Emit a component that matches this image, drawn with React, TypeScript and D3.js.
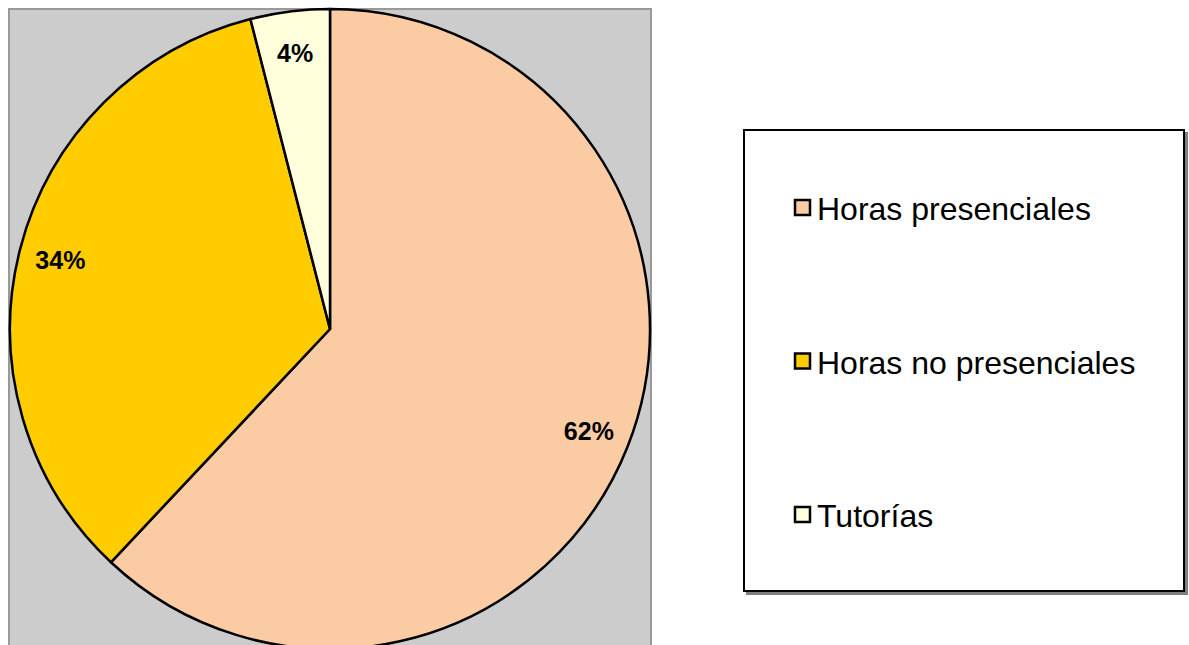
import React, { useRef, useEffect } from 'react';
import * as d3 from 'd3';

const categories = ['Horas presenciales', 'Horas no presenciales', 'Tutorías'];
const values = [62, 34, 4];
const colors = ['#FBCBA3', '#FFCC00', '#FFFFDB'];

const width = 1189;
const height = 645;

const PieChart = () => {
    const ref = useRef<SVGSVGElement>(null);

    useEffect(() => {
        const svg = d3.select(ref.current)
            .attr('width', width)
            .attr('height', height)
            .style('background-color', 'white')
            .style('display', 'block');

        svg.selectAll('*').remove();

        const data = categories.map((name, i) => ({ name, value: values[i] }));
        const color = d3.scaleOrdinal<string, string>().domain(categories).range(colors);

        // plot area
        svg.append('rect')
            .attr('x', 9)
            .attr('y', 9)
            .attr('width', 642)
            .attr('height', 660)
            .attr('fill', '#CCCCCC')
            .attr('stroke', '#999999')
            .attr('stroke-width', 2);

        const radius = 320;
        const g = svg.append('g').attr('transform', 'translate(330, 329)');

        const pie = d3.pie<{ name: string; value: number }>()
            .value(d => d.value)
            .sort(null);

        const path = d3.arc<d3.PieArcDatum<{ name: string; value: number }>>()
            .outerRadius(radius)
            .innerRadius(0);

        const label = d3.arc<d3.PieArcDatum<{ name: string; value: number }>>()
            .outerRadius(radius * 0.87)
            .innerRadius(radius * 0.87);

        const arcs = g.selectAll('g.slice')
            .data(pie(data))
            .enter()
            .append('g')
            .attr('class', 'slice');

        arcs.append('path')
            .attr('d', path)
            .attr('fill', d => color(d.data.name))
            .attr('stroke', 'black')
            .attr('stroke-width', 2.5)
            .attr('stroke-linejoin', 'round');

        const total = d3.sum(values);
        arcs.append('text')
            .attr('transform', d => 'translate(' + label.centroid(d) + ')')
            .attr('text-anchor', 'middle')
            .attr('dy', '0.36em')
            .style('font-family', '"Liberation Sans", Arial, sans-serif')
            .style('font-weight', 'bold')
            .style('font-size', '25px')
            .attr('fill', 'black')
            .text(d => Math.round((d.data.value / total) * 100) + '%');

        // legend
        const legend = svg.append('g');
        legend.append('rect')
            .attr('x', 746)
            .attr('y', 132)
            .attr('width', 442)
            .attr('height', 463)
            .attr('fill', '#808080');
        legend.append('rect')
            .attr('x', 744)
            .attr('y', 130)
            .attr('width', 440)
            .attr('height', 461)
            .attr('fill', 'white')
            .attr('stroke', 'black')
            .attr('stroke-width', 2);

        const rowY = d3.scalePoint<string>()
            .domain(categories)
            .range([220, 527]);

        const item = legend.selectAll('g.item')
            .data(categories)
            .enter()
            .append('g')
            .attr('class', 'item')
            .attr('transform', d => `translate(0, ${rowY(d)})`);

        item.append('rect')
            .attr('x', 795)
            .attr('y', -20)
            .attr('width', 15)
            .attr('height', 15)
            .attr('fill', d => color(d))
            .attr('stroke', 'black')
            .attr('stroke-width', 2.5);

        item.append('text')
            .attr('x', 817)
            .attr('y', 0)
            .style('font-family', '"Liberation Sans", Arial, sans-serif')
            .style('font-size', '32px')
            .attr('fill', 'black')
            .text(d => d);
    }, []);

    return (
        <div style={{ position: 'fixed', left: 0, top: 0 }}>
            <svg ref={ref}></svg>
        </div>
    );
};

export default function App() {
    return <PieChart />;
}
